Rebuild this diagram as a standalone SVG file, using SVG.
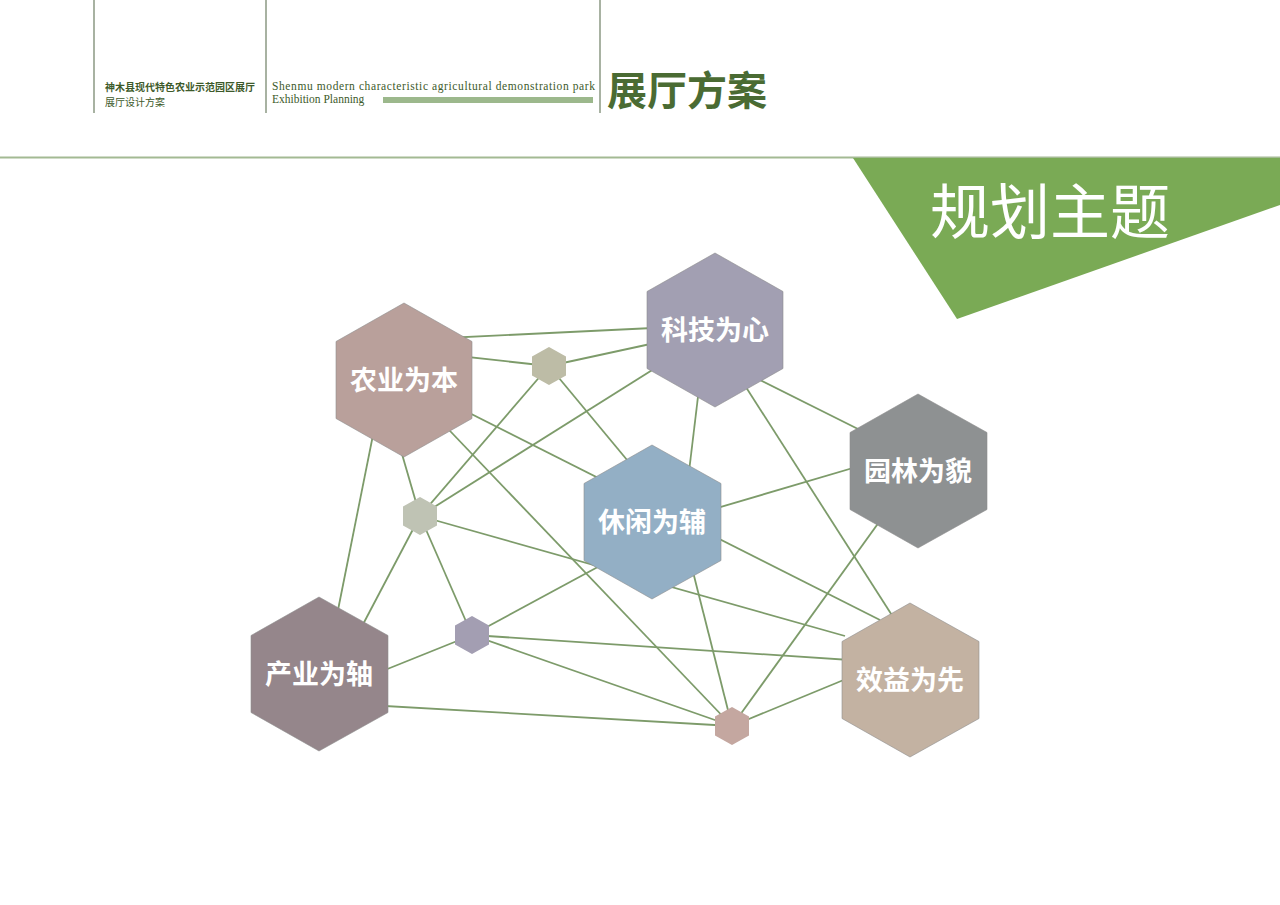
<svg xmlns="http://www.w3.org/2000/svg" width="1280" height="905" viewBox="0 0 1280 905">
<style>
.ln{stroke:#7d9b6a;stroke-width:1.8;fill:none}
.hx{stroke:#8d8d8d;stroke-width:0.6}
.lb{font-family:"Noto Sans CJK SC",sans-serif;font-weight:bold;font-size:27px;fill:#fff;text-anchor:middle}
.vl{stroke:#6e7f64;stroke-width:1.2}
</style>
<rect width="1280" height="905" fill="#fff"/>
<g id="header">
<line class="vl" x1="94" y1="0" x2="94" y2="113"/>
<line class="vl" x1="266" y1="0" x2="266" y2="113"/>
<line class="vl" x1="600" y1="0" x2="600" y2="113"/>
<text x="105" y="91" font-family="Noto Sans CJK SC,sans-serif" font-size="10" font-weight="bold" fill="#3d5a2a">神木县现代特色农业示范园区展厅</text>
<text x="105" y="106" font-family="Noto Sans CJK SC,sans-serif" font-size="10" fill="#3d5a2a">展厅设计方案</text>
<text x="272" y="90" font-family="Liberation Serif,serif" font-size="11.5" fill="#3d5a2a" textLength="323" lengthAdjust="spacing">Shenmu modern characteristic agricultural demonstration park</text>
<text x="272" y="103" font-family="Liberation Serif,serif" font-size="11.5" fill="#3d5a2a">Exhibition  Planning</text>
<rect x="383" y="97" width="210" height="6" fill="#9cb88c"/>
<text x="607" y="105" font-family="Noto Sans CJK SC,sans-serif" font-size="40" font-weight="bold" fill="#4a6b33">展厅方案</text>
<line x1="0" y1="157.5" x2="1280" y2="157.5" stroke="#a3ba93" stroke-width="2"/>
<polygon points="853,158 1280,158 1280,205 957,319" fill="#7aaa55"/>
<text x="1050" y="234" font-family="Noto Sans CJK SC,sans-serif" font-size="60" fill="#fff" text-anchor="middle">规划主题</text>
</g>
<g id="connectors">
<line class="ln" x1="404" y1="340" x2="715" y2="325"/>
<line class="ln" x1="404" y1="350" x2="549" y2="366"/>
<line class="ln" x1="549" y1="366" x2="715" y2="330"/>
<line class="ln" x1="549" y1="366" x2="652" y2="490"/>
<line class="ln" x1="549" y1="366" x2="420" y2="516"/>
<line class="ln" x1="404" y1="380" x2="880" y2="620"/>
<line class="ln" x1="430" y1="410" x2="732" y2="726"/>
<line class="ln" x1="380" y1="400" x2="338" y2="610"/>
<line class="ln" x1="395" y1="430" x2="420" y2="516"/>
<line class="ln" x1="420" y1="516" x2="700" y2="340"/>
<line class="ln" x1="420" y1="516" x2="845" y2="636"/>
<line class="ln" x1="420" y1="516" x2="360" y2="630"/>
<line class="ln" x1="420" y1="516" x2="472" y2="635"/>
<line class="ln" x1="472" y1="635" x2="620" y2="555"/>
<line class="ln" x1="360" y1="680" x2="472" y2="635"/>
<line class="ln" x1="472" y1="635" x2="880" y2="662"/>
<line class="ln" x1="472" y1="635" x2="732" y2="726"/>
<line class="ln" x1="350" y1="704" x2="732" y2="726"/>
<line class="ln" x1="732" y1="726" x2="880" y2="665"/>
<line class="ln" x1="732" y1="726" x2="895" y2="500"/>
<line class="ln" x1="732" y1="726" x2="690" y2="560"/>
<line class="ln" x1="700" y1="380" x2="688" y2="480"/>
<line class="ln" x1="735" y1="370" x2="895" y2="620" stroke-width="2.6"/>
<line class="ln" x1="740" y1="370" x2="900" y2="450"/>
<line class="ln" x1="690" y1="516" x2="880" y2="460"/>
</g>
<g id="n-nongye"><polygon class="hx" points="404,303 472,341.5 472,418.5 404,457 336,418.5 336,341.5" fill="#b9a09b"/><text class="lb" x="404" y="390">农业为本</text></g>
<g id="n-keji"><polygon class="hx" points="715,253 783,291.5 783,368.5 715,407 647,368.5 647,291.5" fill="#a29fb2"/><text class="lb" x="715" y="340">科技为心</text></g>
<g id="n-yuanlin"><polygon class="hx" points="918,394 987,432.5 987,509.5 918,548 850,509.5 850,432.5" fill="#8e9192"/><text class="lb" x="918" y="481">园林为貌</text></g>
<g id="n-xiuxian"><polygon class="hx" points="652,445 721,483.5 721,560.5 652,599 584,560.5 584,483.5" fill="#93afc5"/><text class="lb" x="652" y="532">休闲为辅</text></g>
<g id="n-chanye"><polygon class="hx" points="319,597 388,635.5 388,712.5 319,751 251,712.5 251,635.5" fill="#95868b"/><text class="lb" x="319" y="684">产业为轴</text></g>
<g id="n-xiaoyi"><polygon class="hx" points="910,603 979,641.5 979,718.5 910,757 842,718.5 842,641.5" fill="#c3b2a2"/><text class="lb" x="910" y="690">效益为先</text></g>
<g id="s1"><polygon points="549,347 566,356.5 566,375.5 549,385 532,375.5 532,356.5" fill="#bdbca6"/></g>
<g id="s2"><polygon points="420,497 437,506.5 437,525.5 420,535 403,525.5 403,506.5" fill="#bfc3b4"/></g>
<g id="s3"><polygon points="472,616 489,625.5 489,644.5 472,654 455,644.5 455,625.5" fill="#a39eb2"/></g>
<g id="s4"><polygon points="732,707 749,716.5 749,735.5 732,745 715,735.5 715,716.5" fill="#c4a7a0"/></g>
</svg>
